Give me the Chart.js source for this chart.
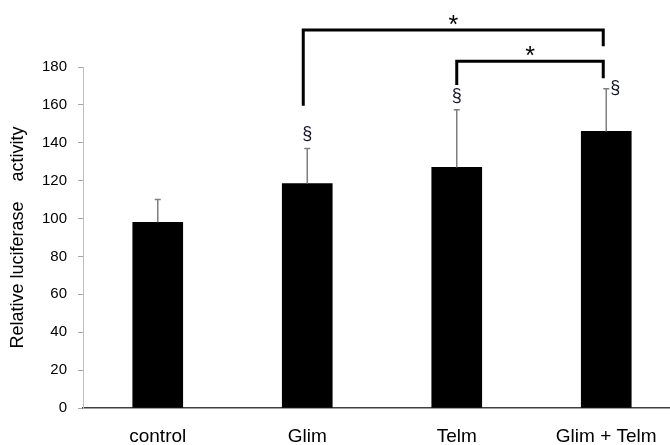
<!DOCTYPE html>
<html>
<head>
  <meta charset="UTF-8" />
  <title>Relative luciferase activity</title>
  <script src="https://cdn.jsdelivr.net/npm/chart.js"></script>
  <style>
    html, body {
      margin: 0;
      padding: 0;
      background: #fff;
      overflow: hidden;
    }
    #chartBox {
      position: relative;
      width: 700px;
      height: 445px;
    }
  </style>
</head>
<body>
  <div id="chartBox">
    <canvas id="lucChart"></canvas>
  </div>

  <script>
    // values
    const groups = ['control', 'Glim', 'Telm', 'Glim + Telm'];
    const means = [98, 118.5, 127, 146];
    const errors = [12, 18.5, 30.5, 22.5];
    const marks = ['', '§', '§', '§'];
    const yTicks = [0, 20, 40, 60, 80, 100, 120, 140, 160, 180];

    // significance brackets: group indexes and the heights (y units) of their legs
    const bracketFrom = [1, 2];
    const bracketTo = [3, 3];
    const bracketLeftY = [159.5, 170.5];
    const bracketTopY = [199.5, 183];
    const bracketRightY = [191, 174];

    const annotate = {
      id: 'annotate',
      afterDatasetsDraw(chart) {
        const ctx = chart.ctx;
        const x = chart.scales.x;
        const y = chart.scales.y;
        ctx.save();

        // error bars (upper half only)
        ctx.strokeStyle = '#7f7f7f';
        ctx.lineWidth = 1.5;
        means.forEach((m, i) => {
          const cx = x.getPixelForValue(i);
          const y0 = y.getPixelForValue(m);
          const y1 = y.getPixelForValue(m + errors[i]);
          ctx.beginPath();
          ctx.moveTo(cx, y0);
          ctx.lineTo(cx, y1);
          ctx.moveTo(cx - 3, y1);
          ctx.lineTo(cx + 3, y1);
          ctx.stroke();
        });

        // § marks
        ctx.fillStyle = '#14142e';
        ctx.font = '18px "Liberation Sans", Arial, sans-serif';
        ctx.textAlign = 'center';
        ctx.textBaseline = 'middle';
        marks.forEach((s, i) => {
          if (!s) return;
          const cx = x.getPixelForValue(i);
          const top = y.getPixelForValue(means[i] + errors[i]);
          if (i === bracketTo[0]) {
            ctx.fillText(s, cx + 9, top - 1);
          } else {
            ctx.fillText(s, cx, top - 14);
          }
        });

        // brackets with stars
        ctx.strokeStyle = '#000';
        ctx.lineWidth = 3;
        ctx.lineJoin = 'miter';
        ctx.fillStyle = '#000';
        ctx.font = '25px "Liberation Sans", Arial, sans-serif';
        ctx.textBaseline = 'alphabetic';
        bracketFrom.forEach((a, k) => {
          const xa = x.getPixelForValue(a) - (k === 0 ? 4 : 0);
          const xb = x.getPixelForValue(bracketTo[k]) - 3;
          const yl = y.getPixelForValue(bracketLeftY[k]);
          const yt = y.getPixelForValue(bracketTopY[k]);
          const yr = y.getPixelForValue(bracketRightY[k]);
          ctx.beginPath();
          ctx.moveTo(xa, yl);
          ctx.lineTo(xa, yt);
          ctx.lineTo(xb, yt);
          ctx.lineTo(xb, yr);
          ctx.stroke();
          ctx.fillText('*', (xa + xb) / 2, yt + 3);
        });

        ctx.restore();
      }
    };

    new Chart(document.getElementById('lucChart'), {
      type: 'bar',
      data: {
        labels: groups,
        datasets: [{
          data: means,
          backgroundColor: '#000',
          borderWidth: 0,
          barThickness: 50
        }]
      },
      options: {
        responsive: true,
        maintainAspectRatio: false,
        animation: false,
        layout: { padding: { top: 67, right: 19, bottom: 0, left: 0 } },
        plugins: {
          legend: { display: false },
          tooltip: { enabled: false }
        },
        scales: {
          x: {
            afterFit: s => { s.height = 37; },
            grid: { display: true, drawOnChartArea: false, drawTicks: false },
            border: { color: '#404040', width: 1.5 },
            ticks: {
              color: '#000',
              padding: 17,
              font: { family: 'Liberation Sans, Arial, sans-serif', size: 19 }
            }
          },
          y: {
            min: 0,
            max: 180,
            afterFit: s => { s.width = 83; },
            afterBuildTicks: s => { s.ticks = yTicks.map(v => ({ value: v })); },
            grid: { display: true, drawOnChartArea: false, tickLength: 5, color: '#a6a6a6' },
            border: { color: '#bfbfbf', width: 1 },
            ticks: {
              color: '#000',
              padding: 11,
              font: { family: 'Liberation Sans, Arial, sans-serif', size: 15 }
            },
            title: {
              display: true,
              text: 'Relative luciferase    activity',
              color: '#000',
              padding: { top: 7, bottom: 0 },
              font: { family: 'Liberation Sans, Arial, sans-serif', size: 18 }
            }
          }
        }
      },
      plugins: [annotate]
    });
  </script>
</body>
</html>
